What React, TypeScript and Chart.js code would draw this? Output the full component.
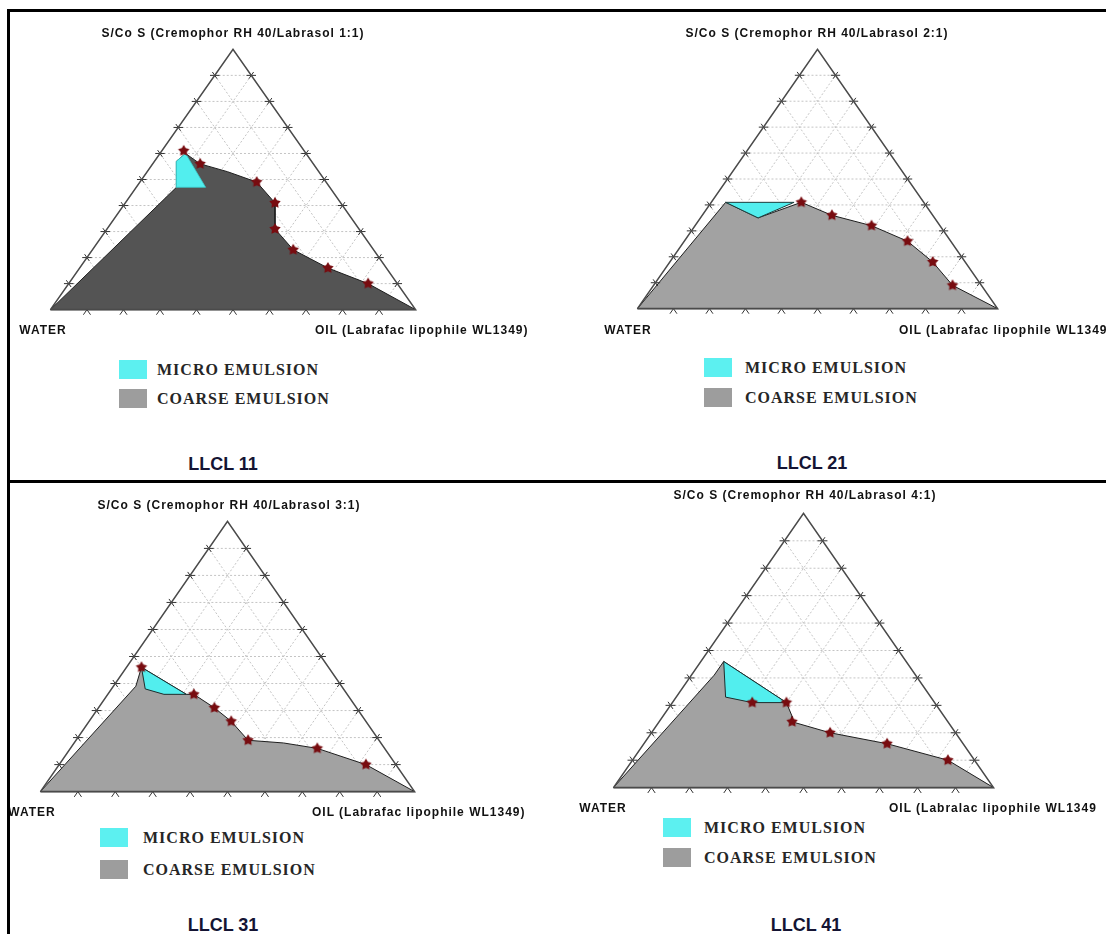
import React, { useEffect, useRef } from "react";
import { Chart, registerables } from "chart.js";

Chart.register(...registerables);

// A composition is [water %, oil %, S/CoS %]
type Comp = [number, number, number];

// ---------------- data ----------------
const gridValues = [10, 20, 30, 40, 50, 60, 70, 80, 90];
const legendLabels = ["MICRO EMULSION", "COARSE EMULSION"];

const llcl11Coarse: Comp[] = [[100, 0, 0], [42, 11, 47], [37, 6, 57], [33, 7, 60], [31, 13, 56], [25, 22, 53], [19, 32, 49], [18, 41, 41], [23, 46, 31], [22, 55, 23], [16, 68, 16], [8, 82, 10], [0, 100, 0], [100, 0, 0]];
const llcl11Micro: Comp[] = [[42, 11, 47], [34, 19, 47], [33, 7, 60], [37, 6, 57], [42, 11, 47]];
const llcl11Points: Comp[] = [[33, 6, 61], [31, 13, 56], [19, 32, 49], [18, 41, 41], [23, 46, 31], [22, 55, 23], [16, 68, 16], [8, 82, 10]];

const llcl21Coarse: Comp[] = [[100, 0, 0], [55, 4, 41], [49, 16, 35], [34, 25, 41], [28, 36, 36], [19, 49, 32], [12, 62, 26], [9, 73, 18], [8, 83, 9], [0, 100, 0], [100, 0, 0]];
const llcl21Micro: Comp[] = [[55, 4, 41], [36, 23, 41], [49, 16, 35], [55, 4, 41]];
const llcl21Points: Comp[] = [[34, 25, 41], [28, 36, 36], [19, 49, 32], [12, 62, 26], [9, 73, 18], [8, 83, 9]];

const llcl31Coarse: Comp[] = [[100, 0, 0], [55, 6, 39], [50, 4, 46], [43, 21, 36], [41, 23, 36], [38, 31, 31], [36, 38, 26], [35, 46, 19], [26, 56, 18], [18, 66, 16], [8, 82, 10], [0, 100, 0], [100, 0, 0]];
const llcl31Micro: Comp[] = [[50, 4, 46], [43, 21, 36], [49, 15, 36], [53, 9, 38], [50, 4, 46]];
const llcl31Points: Comp[] = [[50, 4, 46], [41, 23, 36], [38, 31, 31], [36, 38, 26], [35, 46, 19], [18, 66, 16], [8, 82, 10]];

const llcl41Coarse: Comp[] = [[100, 0, 0], [53, 6, 41], [48, 6, 46], [39, 30, 31], [40, 34, 26], [41, 35, 24], [33, 47, 20], [20, 64, 16], [7, 83, 10], [0, 100, 0], [100, 0, 0]];
const llcl41Micro: Comp[] = [[48, 6, 46], [54, 13, 33], [48, 21, 31], [39, 30, 31], [48, 6, 46]];
const llcl41Points: Comp[] = [[48, 21, 31], [39, 30, 31], [41, 35, 24], [33, 47, 20], [20, 64, 16], [7, 83, 10]];

const vertices: Comp[] = [[100, 0, 0], [0, 100, 0], [0, 0, 100], [100, 0, 0]];

// ---------------- layout / style ----------------
const MICRO_COLOR = "#52eeee";
const LEGEND_MICRO = "#5cf0f0";
const LEGEND_COARSE = "#9d9d9d";

const panels = [
  {
    caption: "LLCL 11",
    smixLabel: "S/Co S (Cremophor RH 40/Labrasol 1:1)",
    oilLabel: "OIL (Labrafac lipophile WL1349)",
    coarse: llcl11Coarse, micro: llcl11Micro, points: llcl11Points,
    coarseColor: "#545454", microEdge: "rgba(60,200,200,0.8)",
    tri: { left: 44, right: 422, top: 43, base: 316 },
    smixPos: [233, 33], waterPos: [43, 330], oilPos: [315, 330],
    legendPos: [119, 360], legendTextX: 157, legendGap: 29, captionPos: [223, 464],
  },
  {
    caption: "LLCL 21",
    smixLabel: "S/Co S (Cremophor RH 40/Labrasol 2:1)",
    oilLabel: "OIL (Labrafac lipophile WL1349)",
    coarse: llcl21Coarse, micro: llcl21Micro, points: llcl21Points,
    coarseColor: "#a2a2a2", microEdge: "#1d3c3c",
    tri: { left: 631, right: 1004, top: 43, base: 315 },
    smixPos: [817, 33], waterPos: [628, 330], oilPos: [899, 330],
    legendPos: [704, 358], legendTextX: 745, legendGap: 30, captionPos: [812, 463],
  },
  {
    caption: "LLCL 31",
    smixLabel: "S/Co S (Cremophor RH 40/Labrasol 3:1)",
    oilLabel: "OIL (Labrafac lipophile WL1349)",
    coarse: llcl31Coarse, micro: llcl31Micro, points: llcl31Points,
    coarseColor: "#a2a2a2", microEdge: "#1d2d2d",
    tri: { left: 34, right: 421, top: 515, base: 798 },
    smixPos: [229, 505], waterPos: [32, 812], oilPos: [312, 812],
    legendPos: [100, 828], legendTextX: 143, legendGap: 32, captionPos: [223, 925],
  },
  {
    caption: "LLCL 41",
    smixLabel: "S/Co S (Cremophor RH 40/Labrasol 4:1)",
    oilLabel: "OIL (Labralac lipophile WL1349",
    coarse: llcl41Coarse, micro: llcl41Micro, points: llcl41Points,
    coarseColor: "#a2a2a2", microEdge: "#1d2d2d",
    tri: { left: 607, right: 1000, top: 507, base: 794 },
    smixPos: [805, 495], waterPos: [603, 808], oilPos: [889, 808],
    legendPos: [663, 818], legendTextX: 704, legendGap: 30, captionPos: [806, 925],
  },
];

const PAD_X = 16;
const PAD_Y = 14;
const TICK = 1.3; // tick length in composition units

// ternary -> cartesian data coordinates (x in 0..100 along base, y = S/CoS %)
const toXY = (c: Comp) => ({ x: c[1] + c[2] / 2, y: c[2] });

function gridData() {
  const out: any[] = [];
  const gap = { x: null, y: null };
  for (const t of gridValues) {
    out.push(toXY([100 - t, 0, t]), toXY([0, 100 - t, t]), gap); // constant S/CoS
    out.push(toXY([100 - t, t, 0]), toXY([0, t, 100 - t]), gap); // constant oil
    out.push(toXY([t, 100 - t, 0]), toXY([t, 0, 100 - t]), gap); // constant water
  }
  return out;
}

function tickData() {
  const out: any[] = [];
  const gap = { x: null, y: null };
  const d = TICK;
  for (const t of gridValues) {
    // left edge (oil = 0): crossing marks
    out.push(toXY([100 - t + d, -d, t]), toXY([100 - t - d, d, t]), gap);
    out.push(toXY([100 - t, -d, t + d]), toXY([100 - t, d, t - d]), gap);
    // right edge (water = 0)
    out.push(toXY([-d, 100 - t + d, t]), toXY([d, 100 - t - d, t]), gap);
    out.push(toXY([-d, 100 - t, t + d]), toXY([d, 100 - t, t - d]), gap);
    // base (S/CoS = 0): outward marks
    out.push(toXY([100 - t + d * 1.5, t, -d * 1.5]), toXY([100 - t, t, 0]), toXY([100 - t, t + d * 1.5, -d * 1.5]), gap);
  }
  return out;
}

function makeStar(color: string, r: number) {
  const c = document.createElement("canvas");
  const size = Math.ceil(r * 2 + 2);
  c.width = size;
  c.height = size;
  const ctx = c.getContext("2d")!;
  ctx.fillStyle = color;
  ctx.beginPath();
  for (let i = 0; i < 10; i++) {
    const a = -Math.PI / 2 + (i * Math.PI) / 5;
    const rr = i % 2 === 0 ? r : r * 0.55;
    ctx.lineTo(size / 2 + rr * Math.cos(a), size / 2 + rr * Math.sin(a));
  }
  ctx.closePath();
  ctx.fill();
  return c;
}

function TernaryChart({ p }: { p: any }) {
  const ref = useRef<HTMLCanvasElement>(null);
  const W = p.tri.right - p.tri.left;
  const H = p.tri.base - p.tri.top;
  useEffect(() => {
    if (!ref.current) return;
    const star = makeStar("#780c10", 6);
    const xPad = (PAD_X * 100) / W;
    const yPad = (PAD_Y * 100) / H;
    const chart = new Chart(ref.current, {
      type: "line",
      data: {
        datasets: [
          {
            data: p.points.map(toXY),
            showLine: false,
            pointStyle: star as any,
            pointRadius: 6,
            order: 0,
          },
          {
            data: vertices.map(toXY),
            borderColor: "#4a4a4a",
            borderWidth: 1.6,
            pointRadius: 0,
            fill: false,
            order: 1,
          },
          {
            data: tickData(),
            borderColor: "#333333",
            borderWidth: 1,
            pointRadius: 0,
            fill: false,
            spanGaps: false,
            order: 2,
          },
          {
            data: p.micro.map(toXY),
            borderColor: p.microEdge,
            borderWidth: 1,
            backgroundColor: MICRO_COLOR,
            pointRadius: 0,
            fill: "shape",
            order: 3,
          },
          {
            data: p.coarse.map(toXY),
            borderColor: "#1e1e1e",
            borderWidth: 1,
            backgroundColor: p.coarseColor,
            pointRadius: 0,
            fill: "shape",
            order: 4,
          },
          {
            data: gridData(),
            borderColor: "#c4c4c4",
            borderWidth: 1,
            borderDash: [2, 2],
            pointRadius: 0,
            fill: false,
            spanGaps: false,
            order: 5,
          },
        ] as any,
      },
      options: {
        responsive: false,
        animation: false,
        devicePixelRatio: 1,
        events: [],
        layout: { padding: 0 },
        elements: { line: { tension: 0 }, point: { radius: 0 } },
        scales: {
          x: { type: "linear", min: -xPad, max: 100 + xPad, display: false },
          y: { type: "linear", min: -yPad, max: 100 + yPad, display: false },
        },
        plugins: { legend: { display: false }, tooltip: { enabled: false }, title: { display: false } },
      } as any,
    });
    return () => chart.destroy();
  }, []);
  return (
    <canvas
      ref={ref}
      width={W + 2 * PAD_X}
      height={H + 2 * PAD_Y}
      style={{ position: "absolute", left: p.tri.left - PAD_X, top: p.tri.top - PAD_Y }}
    />
  );
}

const axisFont: React.CSSProperties = {
  fontFamily: '"Liberation Sans", Arial, sans-serif',
  fontWeight: "bold",
  fontSize: 12,
  letterSpacing: 1,
  color: "#111111",
  whiteSpace: "nowrap",
  position: "absolute",
  lineHeight: "14px",
  height: 14,
};

const legendFont: React.CSSProperties = {
  fontFamily: '"Liberation Serif", "Times New Roman", serif',
  fontWeight: "bold",
  fontSize: 16,
  letterSpacing: 1,
  color: "#262626",
  whiteSpace: "nowrap",
  position: "absolute",
  lineHeight: "20px",
  height: 20,
};

function Centered({ cx, cy, style, children }: any) {
  return (
    <div style={{ ...style, left: cx - 300, width: 600, textAlign: "center", top: cy - (style.height as number) / 2 }}>
      {children}
    </div>
  );
}

function Panel({ p }: { p: any }) {
  const [lx, ly] = p.legendPos;
  return (
    <>
      <TernaryChart p={p} />
      <Centered cx={p.smixPos[0]} cy={p.smixPos[1]} style={axisFont}>{p.smixLabel}</Centered>
      <Centered cx={p.waterPos[0]} cy={p.waterPos[1]} style={axisFont}>WATER</Centered>
      <div style={{ ...axisFont, left: p.oilPos[0], top: p.oilPos[1] - 7 }}>{p.oilLabel}</div>
      {legendLabels.map((lab, i) => (
        <React.Fragment key={lab}>
          <div
            style={{
              position: "absolute",
              left: lx,
              top: ly + i * p.legendGap,
              width: 28,
              height: 19,
              background: i === 0 ? LEGEND_MICRO : LEGEND_COARSE,
            }}
          />
          <div style={{ ...legendFont, left: p.legendTextX, top: ly + i * p.legendGap - 0.5 }}>{lab}</div>
        </React.Fragment>
      ))}
      <Centered
        cx={p.captionPos[0]}
        cy={p.captionPos[1]}
        style={{
          position: "absolute",
          fontFamily: '"Liberation Sans", Arial, sans-serif',
          fontWeight: "bold",
          fontSize: 18,
          color: "#141433",
          lineHeight: "22px",
          height: 22,
          whiteSpace: "nowrap",
        }}
      >
        {p.caption}
      </Centered>
    </>
  );
}

export default function App() {
  return (
    <div
      style={{
        position: "absolute",
        left: 0,
        top: 0,
        width: 1106,
        height: 934,
        overflow: "hidden",
        background: "#ffffff",
      }}
    >
      {panels.map((p) => (
        <Panel key={p.caption} p={p} />
      ))}
      {/* frame lines */}
      <div style={{ position: "absolute", left: 7, top: 9, width: 1099, height: 3, background: "#000" }} />
      <div style={{ position: "absolute", left: 7, top: 9, width: 3, height: 925, background: "#000" }} />
      <div style={{ position: "absolute", left: 7, top: 480, width: 1099, height: 3, background: "#000" }} />
    </div>
  );
}
